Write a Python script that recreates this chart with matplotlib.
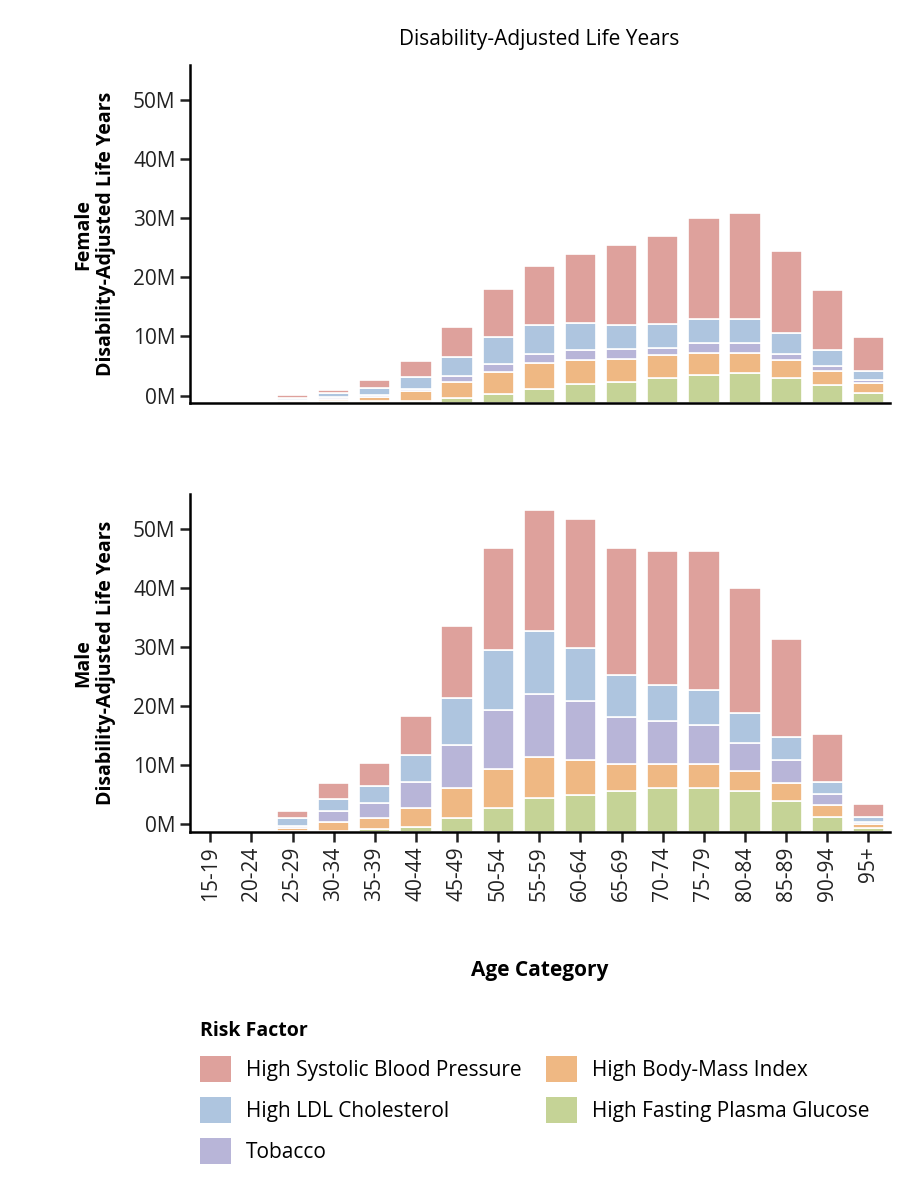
import numpy as np
from matplotlib import pyplot as plt
from matplotlib.patches import Patch

plt.rcParams['font.family'] = ['Open Sans', 'DejaVu Sans']

ages = ["15-19", "20-24", "25-29", "30-34", "35-39", "40-44", "45-49", "50-54", "55-59",
        "60-64", "65-69", "70-74", "75-79", "80-84", "85-89", "90-94", "95+"]

# values in millions of DALYs, bottom to top
female_glucose = [0, 0.05, 0.1, 0.3, 0.3, 0.45, 0.84, 1.57, 2.36, 3.2, 3.65, 4.27, 4.83, 5.06, 4.27, 3.03, 1.74]
female_bmi = [0, 0.1, 0.3, 0.45, 0.77, 1.63, 2.76, 3.71, 4.38, 4.1, 3.82, 3.88, 3.71, 3.48, 3.03, 2.42, 1.69]
female_tobacco = [0, 0.02, 0.15, 0.3, 0.39, 0.39, 1.06, 1.35, 1.63, 1.63, 1.74, 1.23, 1.57, 1.57, 1.07, 0.79, 0.5]
female_ldl = [0, 0.05, 0.4, 0.7, 1.12, 2.03, 3.14, 4.61, 4.83, 4.67, 3.99, 3.99, 4.16, 4.16, 3.43, 2.76, 1.57]
female_sbp = [0, 0.1, 0.5, 0.55, 1.35, 2.63, 5.0, 8.03, 10.0, 11.6, 13.5, 14.9, 17.1, 17.9, 13.9, 10.2, 5.7]

male_glucose = [0, 0.05, 0.17, 0.17, 0.4, 0.85, 2.27, 4.03, 5.68, 6.25, 6.82, 7.33, 7.33, 6.82, 5.23, 2.56, 0.63]
male_bmi = [0, 0.1, 0.51, 1.43, 1.93, 3.18, 5.06, 6.57, 6.92, 5.95, 4.66, 4.15, 4.15, 3.38, 2.95, 1.93, 0.62]
male_tobacco = [0, 0.05, 0.29, 1.87, 2.5, 4.37, 7.44, 10.0, 10.8, 10.0, 7.9, 7.27, 6.52, 4.86, 4.02, 1.82, 0.4]
male_ldl = [0, 0.05, 1.3, 1.98, 2.9, 4.6, 7.93, 10.2, 10.7, 9.0, 7.1, 6.05, 6.1, 5.0, 3.9, 2.04, 0.91]
male_sbp = [0, 0.15, 1.2, 2.73, 3.92, 6.66, 12.2, 17.3, 20.4, 21.9, 21.6, 22.8, 23.5, 21.2, 16.5, 8.15, 2.1]

factors = ["High Systolic Blood Pressure", "High LDL Cholesterol", "Tobacco",
           "High Body-Mass Index", "High Fasting Plasma Glucose"]
colors = {"High Systolic Blood Pressure": "#dea19c", "High LDL Cholesterol": "#aec5df",
          "Tobacco": "#b8b5d8", "High Body-Mass Index": "#efb883",
          "High Fasting Plasma Glucose": "#c5d396"}
tick_vals = [0, 10, 20, 30, 40, 50]
tick_labels = ["0M", "10M", "20M", "30M", "40M", "50M"]
offset = 1.3  # the 0M tick sits a little above the axis line


def draw(ax, stacks, sex, show_x):
    x = np.arange(len(ages))
    bottom = np.zeros(len(ages))
    for name, vals in stacks:
        vals = np.array(vals)
        ax.bar(x, vals, 0.76, bottom=bottom, color=colors[name], edgecolor="white", linewidth=1.2)
        bottom += vals
    ax.set_xlim(-0.49, 16.53)
    ax.set_ylim(0, 57.2)
    ax.set_yticks([v + offset for v in tick_vals])
    ax.set_yticklabels(tick_labels, fontsize=15)
    for s in ["top", "right"]:
        ax.spines[s].set_visible(False)
    for s in ["left", "bottom"]:
        ax.spines[s].set_linewidth(1.8)
    ax.tick_params(width=1.8, length=7, colors="#222222")
    ax.set_ylabel(sex + "\nDisability-Adjusted Life Years", fontsize=14, fontweight="bold", labelpad=12)
    if show_x:
        ax.set_xticks(x)
        ax.set_xticklabels(ages, rotation=90, fontsize=15)
    else:
        ax.set_xticks([])


fig = plt.figure(figsize=(9.14, 12), dpi=100)
ax1 = fig.add_axes([0.208, 0.664, 0.766, 0.282])
ax2 = fig.add_axes([0.208, 0.307, 0.766, 0.281])

draw(ax1, [("High Fasting Plasma Glucose", female_glucose), ("High Body-Mass Index", female_bmi),
           ("Tobacco", female_tobacco), ("High LDL Cholesterol", female_ldl),
           ("High Systolic Blood Pressure", female_sbp)], "Female", False)
draw(ax2, [("High Fasting Plasma Glucose", male_glucose), ("High Body-Mass Index", male_bmi),
           ("Tobacco", male_tobacco), ("High LDL Cholesterol", male_ldl),
           ("High Systolic Blood Pressure", male_sbp)], "Male", True)

fig.text(0.59, 0.967, "Disability-Adjusted Life Years", ha="center", va="center", fontsize=15)
fig.text(0.59, 0.191, "Age Category", ha="center", va="center", fontsize=15, fontweight="bold")

handles = [Patch(facecolor=colors[f], edgecolor="none") for f in factors]
leg = fig.legend(handles, factors, loc="upper left", bbox_to_anchor=(0.198, 0.165), ncol=2,
                 frameon=False, fontsize=15, title="Risk Factor", alignment="left",
                 handlelength=1.5, handleheight=1.5, columnspacing=1.2, labelspacing=0.75,
                 handletextpad=0.7)
leg.get_title().set_fontweight("bold")
leg.get_title().set_fontsize(14)

fig.savefig("out.png", dpi=100)
